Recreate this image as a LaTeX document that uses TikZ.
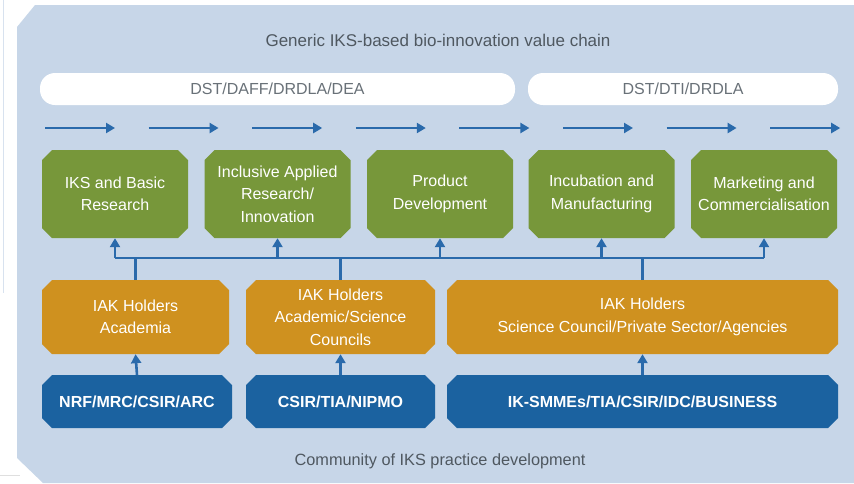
\documentclass[tikz,border=0pt]{standalone}
\usepackage{fontspec}
\setmainfont{Liberation Sans}
\usetikzlibrary{shapes.misc,arrows.meta}
\definecolor{panel}{HTML}{C7D6E8}
\definecolor{leaf}{HTML}{77973A}
\definecolor{ochre}{HTML}{CF911F}
\definecolor{navy}{HTML}{1B62A0}
\definecolor{flow}{HTML}{2A6AAB}
\definecolor{caption}{HTML}{4F5860}
\begin{document}
\begin{tikzpicture}[x=1pt,y=-1pt,
	stage/.style={chamfered rectangle,chamfered rectangle xsep=5pt,chamfered rectangle ysep=5pt,
		inner sep=0pt,text=white,align=center,font=\fontsize{16}{22.5}\selectfont},
	green/.style={stage,fill=leaf,minimum width=146,minimum height=88},
	holder/.style={stage,fill=ochre,minimum height=74},
	funder/.style={stage,fill=navy,minimum height=53,font=\fontsize{16}{20}\selectfont\bfseries},
	pill/.style={fill=white,rounded corners=15pt,minimum height=32,text=caption!85,font=\fontsize{16}{18}\selectfont},
	link/.style={draw=flow,line width=2.6pt},
	tip/.style={link,-{Triangle[length=9pt,width=10pt]}}]
\useasboundingbox (0,0) rectangle (854,483);
% page edges
\draw[panel!70] (3,0) -- (3,293);
\draw[gray!25] (0,475) -- (20,475);
% background panel
\fill[panel] (17,27) -- (35,5) -- (854,5) -- (854,483) -- (43,483) -- (17,458) -- cycle;
\node[text=caption,font=\fontsize{17}{19}\selectfont] (title) at (438,40) {Generic IKS-based bio-innovation value chain};
\node[text=caption,font=\fontsize{16.3}{19}\selectfont] (footer) at (440,461) {Community of IKS practice development};

% departments
\node[pill,minimum width=475] (deptA) at (277.5,89) {DST/DAFF/DRDLA/DEA};
\node[pill,minimum width=310] (deptB) at (683,89) {DST/DTI/DRDLA};
\foreach \i in {0,...,7}
	\draw[tip] (45+103.6*\i,128) -- ++(70,0);

% value chain
\node[green] (g1) at (115,194) {IKS and Basic\\Research};
\node[green] (g2) at (277.5,194) {Inclusive Applied\\Research/\\Innovation};
\node[green] (g3) at (440,194) {Product\\Development};
\node[green] (g4) at (601.5,194) {Incubation and\\Manufacturing};
\node[green] (g5) at (764,194) {Marketing and\\Commercialisation};

% holders
\node[holder,minimum width=187] (o1) at (135.5,317) {IAK Holders\\Academia};
\node[holder,minimum width=189] (o2) at (340.5,317) {IAK Holders\\Academic/Science\\Councils};
\node[holder,minimum width=391] (o3) at (642.5,317) {IAK Holders\\Science Council/Private Sector/Agencies};

% funders
\node[funder,minimum width=190] (b1) at (137,401.5) {NRF/MRC/CSIR/ARC};
\node[funder,minimum width=189] (b2) at (340.5,401.5) {CSIR/TIA/NIPMO};
\node[funder,minimum width=391] (b3) at (642.5,401.5) {IK-SMMEs/TIA/CSIR/IDC/BUSINESS};

\coordinate (bus) at (0,258);
\draw[link] (g1 |- bus) -- (g5 |- bus);
\foreach \n in {g1,g2,g3,g4,g5}
	\draw[tip] (\n |- bus) -- (\n.south);
\foreach \n in {o1,o2,o3}
	\draw[link] (\n.north) -- (\n |- bus);
\draw[tip] (b1.north) -- (o1.south);
\draw[tip] (b2.north) -- (o2.south);
\draw[tip] (b3.north) -- (o3.south);
\end{tikzpicture}
\end{document}
